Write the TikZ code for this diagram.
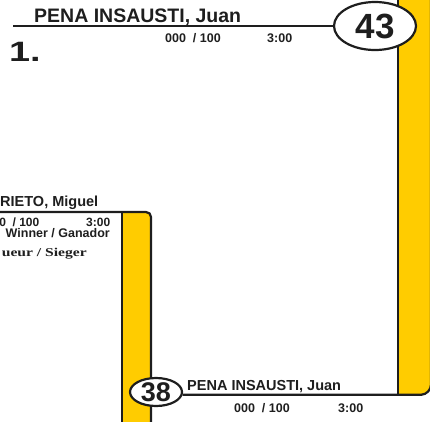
\documentclass[tikz,border=0pt]{standalone}
\usepackage{fontspec}
\setmainfont{Liberation Sans}[BoldFont = {Liberation Sans Bold}]
\newfontfamily\serifbold{Liberation Serif Bold}
\usetikzlibrary{shapes.geometric}
\definecolor{baryellow}{RGB}{255,204,0}
\definecolor{ink}{RGB}{30,30,30}
\tikzset{bracket/.style = {draw = ink, line width = 2.2pt}}
\tikzset{seed/.style = {draw = ink, fill = white, ellipse, line width = 2.2pt,
                        inner sep = 0, text = ink}}
\tikzset{player/.style = {anchor = base west, inner sep = 0, text = ink,
                          font = \fontsize{19.5}{20}\selectfont\bfseries}}
\tikzset{score/.style = {anchor = base west, inner sep = 0, text = ink,
                         font = \fontsize{12.5}{13}\selectfont\bfseries}}

\begin{document}
\begin{tikzpicture}[x = 1pt, y = -1pt]
    \useasboundingbox (0, 0) rectangle (430, 421);
    \clip (0, 0) rectangle (430, 421);
    % yellow bars
    \fill [baryellow] (398, -5) -- (398, 394.5) -- (421, 394.5)
        .. controls (426.5, 394.5) and (431, 390) .. (431, 384.5) -- (431, -5) -- cycle;
    \fill [baryellow] (122, 212) -- (146, 212)
        .. controls (148.8, 212) and (151, 214.2) .. (151, 217) -- (151, 425) -- (122, 425) -- cycle;
    % lower left bracket
    \draw [bracket] (-5, 212) -- (146, 212)
        .. controls (148.8, 212) and (151, 214.2) .. (151, 217) -- (151, 425);
    \draw [bracket] (122, 212) -- (122, 425);
    \draw [bracket] (398, -5) -- (398, 394.5);
    % seeds
    \node [seed, minimum width = 82pt, minimum height = 48pt,
           font = \fontsize{35}{35}\selectfont\bfseries] (e43) at (375, 26) {43};
    \node [seed, minimum width = 52pt, minimum height = 28pt,
           font = \fontsize{27}{27}\selectfont\bfseries] (e38) at (156, 392) {38};
    \coordinate (barcorner) at (421, 394.5);
    \draw [bracket] (13, 26) -- (e43);
    \draw [bracket] (e38.-6) -- (e38.-6 -| barcorner)
        .. controls (426.5, 394.5) and (431, 390) .. (431, 384.5) -- (431, -5);
    % top match
    \node [player] (topname) at (34, 22) {PENA INSAUSTI, Juan};
    \node [anchor = base west, inner sep = 0, text = ink,
           font = \fontsize{28}{28}\selectfont\bfseries] (round) at (9, 61) {\scalebox{1.35}[1]{1.}};
    \node [score] (topscore) at (165, 42) {000\ \ / 100};
    \node [score] (toptime) at (267, 42) {3:00};
    % bottom match
    \node [player, font = \fontsize{14.5}{15}\selectfont\bfseries] (botname) at (187, 390) {PENA INSAUSTI, Juan};
    \node [score] (botscore) at (234, 412) {000\ \ / 100};
    \node [score] (bottime) at (338, 412) {3:00};
    % left match
    \node [player, font = \fontsize{14.5}{15}\selectfont\bfseries] (leftname) at (0, 206) {RIETO, Miguel};
    \node [score, anchor = base east, font = \fontsize{12}{12}\selectfont\bfseries] (leftscore) at (39.5, 226.5) {0\ \ / 100};
    \node [score, font = \fontsize{12}{12}\selectfont\bfseries] (lefttime) at (86, 226.5) {3:00};
    \node [score, anchor = base east, font = \fontsize{12.5}{12.5}\selectfont\bfseries] (winner) at (110, 237.5) {Winner / Ganador};
    \node [score, anchor = base east, font = \serifbold\fontsize{12}{12}\selectfont] (vainqueur) at (87, 256) {\scalebox{1.3}[1]{ueur / Sieger}};
\end{tikzpicture}
\end{document}
